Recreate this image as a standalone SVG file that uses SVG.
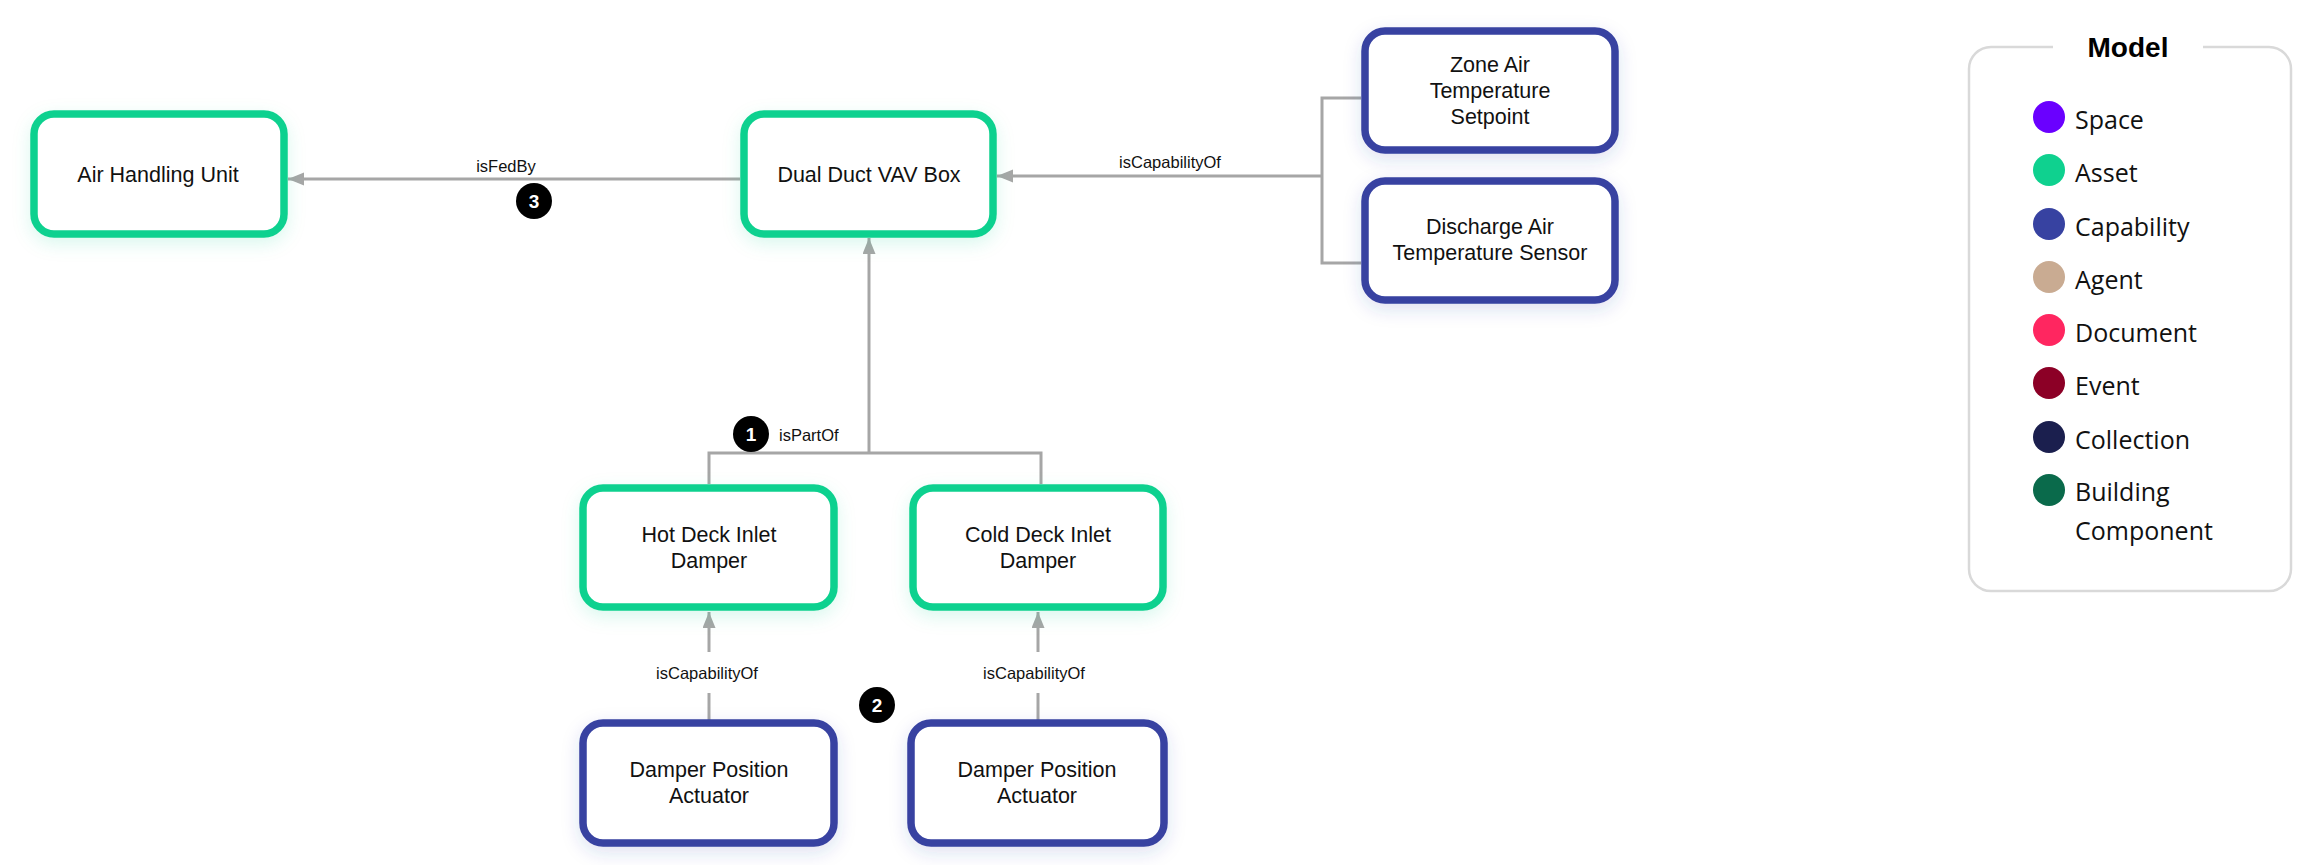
<svg xmlns="http://www.w3.org/2000/svg" width="2305" height="865" viewBox="0 0 2305 865">
<style>
.asset{fill:#fff;stroke:#10D18F;stroke-width:7.5}
.cap{fill:#fff;stroke:#3742A1;stroke-width:7.5}
.t{font-family:"Liberation Sans",Arial,sans-serif;font-size:21.5px;fill:#111;text-anchor:middle}
.lbl{font-family:"Liberation Sans",Arial,sans-serif;font-size:16.5px;fill:#111;text-anchor:middle}
.conn{fill:none;stroke:#A6A6A6;stroke-width:3}
.badge{fill:#000}
.bn{font-family:"Liberation Sans",Arial,sans-serif;font-size:19px;font-weight:bold;fill:#fff;text-anchor:middle}
.leg{font-family:"Open Sans","Liberation Sans",sans-serif;font-size:25px;fill:#111}
</style>
<defs>
<marker id="arr" markerUnits="userSpaceOnUse" markerWidth="17" markerHeight="14" refX="16" refY="6.5" orient="auto">
<path d="M0,0 L16,6.5 L0,13 z" fill="#A6A6A6"/>
</marker>
<filter id="shA" x="-20%" y="-30%" width="140%" height="160%">
<feDropShadow dx="0" dy="6" stdDeviation="9" flood-color="#10D18F" flood-opacity="0.15"/>
</filter>
<filter id="shC" x="-20%" y="-30%" width="140%" height="160%">
<feDropShadow dx="0" dy="6" stdDeviation="9" flood-color="#3742A1" flood-opacity="0.15"/>
</filter>
</defs>
<rect width="2305" height="865" fill="#fff"/>

<g id="connectors">
<line class="conn" x1="740" y1="179" x2="288" y2="179" marker-end="url(#arr)"/>
<text class="lbl" x="506" y="172">isFedBy</text>
<path class="conn" d="M1361,98 H1322 V263 H1361"/>
<line class="conn" x1="1322" y1="176" x2="997" y2="176" marker-end="url(#arr)"/>
<text class="lbl" x="1170" y="168">isCapabilityOf</text>
<path class="conn" d="M709,484 V453 H1041 V484"/>
<line class="conn" x1="869" y1="453" x2="869" y2="238" marker-end="url(#arr)"/>
<text class="lbl" x="779" y="441" style="text-anchor:start">isPartOf</text>
<line class="conn" x1="709" y1="723" x2="709" y2="693"/>
<line class="conn" x1="709" y1="652" x2="709" y2="612" marker-end="url(#arr)"/>
<text class="lbl" x="707" y="679">isCapabilityOf</text>
<line class="conn" x1="1038" y1="723" x2="1038" y2="693"/>
<line class="conn" x1="1038" y1="652" x2="1038" y2="612" marker-end="url(#arr)"/>
<text class="lbl" x="1034" y="679">isCapabilityOf</text>
</g>

<g id="badges">
<circle class="badge" cx="534" cy="201" r="18"/>
<text class="bn" x="534" y="208">3</text>
<circle class="badge" cx="751" cy="434" r="18"/>
<text class="bn" x="751" y="441">1</text>
<circle class="badge" cx="877" cy="705" r="18"/>
<text class="bn" x="877" y="712">2</text>
</g>

<g id="ahu">
<rect class="asset" filter="url(#shA)" x="34" y="114" width="250" height="120" rx="20"/>
<text class="t" x="158" y="182">Air Handling Unit</text>
</g>
<g id="vav">
<rect class="asset" filter="url(#shA)" x="744" y="114" width="249" height="120" rx="20"/>
<text class="t" x="869" y="182">Dual Duct VAV Box</text>
</g>
<g id="zats">
<rect class="cap" filter="url(#shC)" x="1365" y="31" width="250" height="119" rx="20"/>
<text class="t" x="1490" y="72">Zone Air</text>
<text class="t" x="1490" y="98">Temperature</text>
<text class="t" x="1490" y="124">Setpoint</text>
</g>
<g id="dats">
<rect class="cap" filter="url(#shC)" x="1365" y="181" width="250" height="119" rx="20"/>
<text class="t" x="1490" y="234">Discharge Air</text>
<text class="t" x="1490" y="260">Temperature Sensor</text>
</g>
<g id="hot">
<rect class="asset" filter="url(#shA)" x="583" y="488" width="251" height="119" rx="20"/>
<text class="t" x="709" y="542">Hot Deck Inlet</text>
<text class="t" x="709" y="568">Damper</text>
</g>
<g id="cold">
<rect class="asset" filter="url(#shA)" x="913" y="488" width="250" height="119" rx="20"/>
<text class="t" x="1038" y="542">Cold Deck Inlet</text>
<text class="t" x="1038" y="568">Damper</text>
</g>
<g id="act1">
<rect class="cap" filter="url(#shC)" x="583" y="723" width="251" height="120" rx="20"/>
<text class="t" x="709" y="777">Damper Position</text>
<text class="t" x="709" y="803">Actuator</text>
</g>
<g id="act2">
<rect class="cap" filter="url(#shC)" x="911" y="723" width="253" height="120" rx="20"/>
<text class="t" x="1037" y="777">Damper Position</text>
<text class="t" x="1037" y="803">Actuator</text>
</g>

<g id="legend">
<rect x="1969" y="47" width="322" height="544" rx="22" fill="#fff" stroke="#D9D9D9" stroke-width="2.5"/>
<rect x="2053" y="40" width="150" height="14" fill="#fff"/>
<text x="2128" y="57" style="font-family:'Liberation Sans',Arial,sans-serif;font-size:28px;font-weight:bold;fill:#000;text-anchor:middle">Model</text>
<circle cx="2049" cy="117" r="16" fill="#6A00FF"/>
<text class="leg" x="2075" y="129">Space</text>
<circle cx="2049" cy="170" r="16" fill="#0FD18F"/>
<text class="leg" x="2075" y="182">Asset</text>
<circle cx="2049" cy="224" r="16" fill="#3742A1"/>
<text class="leg" x="2075" y="236">Capability</text>
<circle cx="2049" cy="277" r="16" fill="#C9AB92"/>
<text class="leg" x="2075" y="289">Agent</text>
<circle cx="2049" cy="330" r="16" fill="#FF2660"/>
<text class="leg" x="2075" y="342">Document</text>
<circle cx="2049" cy="383" r="16" fill="#8C0026"/>
<text class="leg" x="2075" y="395">Event</text>
<circle cx="2049" cy="437" r="16" fill="#1B1F4E"/>
<text class="leg" x="2075" y="449">Collection</text>
<circle cx="2049" cy="490" r="16" fill="#0A6A4B"/>
<text class="leg" x="2075" y="501">Building</text>
<text class="leg" x="2075" y="540">Component</text>
</g>
</svg>
